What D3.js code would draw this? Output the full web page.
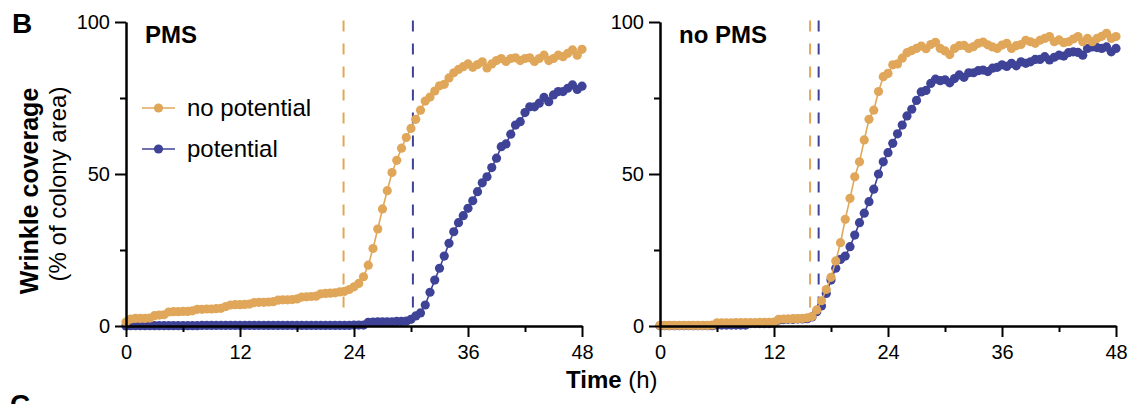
<!DOCTYPE html>
<html>
<head>
<meta charset="utf-8">
<script src="https://cdn.jsdelivr.net/npm/d3@7"></script>
<style>
body { margin: 0; background: #fff; }
svg { font-family: Arial, "Liberation Sans", Helvetica, sans-serif; }
</style>
</head>
<body>
<svg width="1132" height="404"></svg>
<script>
// sampling every 30 min, 0..48 h
var hours = d3.range(0, 48.5, 0.5);

var seriesNames = ["no potential", "potential"],
	seriesColors = ["#E0A75A", "#3F4397"];

// PMS panel
var pmsNoPotential = [
	1.3, 2.3, 2.5, 2.5, 2.5, 2.6, 3.4, 3.6, 3.7, 4.6,
	4.7, 4.7, 4.8, 4.8, 5.0, 5.5, 5.5, 5.6, 5.6, 5.7,
	5.8, 6.4, 6.9, 7.0, 7.0, 7.1, 7.2, 7.7, 7.8, 7.8,
	7.9, 8.0, 8.5, 8.6, 8.6, 8.7, 8.9, 9.5, 9.6, 9.7,
	9.8, 10.6, 10.7, 10.8, 10.9, 11.2, 11.4, 12.0, 12.9, 14.0,
	16.2, 20.0, 25.5, 31.9, 38.5, 44.5, 50.5, 54.5, 58.5, 62.0,
	65.0, 68.0, 71.0, 74.0, 75.3, 77.3, 79.0, 79.5, 81.6, 83.3,
	84.4, 85.3, 86.2, 85.1, 86.0, 86.9, 84.9, 86.2, 87.3, 88.0,
	87.0, 88.0, 88.2, 87.3, 88.0, 88.2, 87.0, 88.0, 89.1, 87.3,
	88.0, 89.1, 88.6, 89.7, 90.8, 89.1, 91.0];
var pmsPotential = [
	0.0, 0.1, 0.1, 0.1, 0.1, 0.1, 0.1, 0.1, 0.1, 0.1,
	0.1, 0.1, 0.1, 0.1, 0.1, 0.1, 0.2, 0.2, 0.2, 0.2,
	0.2, 0.2, 0.2, 0.2, 0.2, 0.2, 0.2, 0.2, 0.2, 0.2,
	0.2, 0.2, 0.2, 0.2, 0.2, 0.2, 0.2, 0.2, 0.2, 0.2,
	0.2, 0.2, 0.2, 0.2, 0.2, 0.2, 0.2, 0.2, 0.3, 0.3,
	0.3, 1.2, 1.3, 1.4, 1.4, 1.4, 1.4, 1.5, 1.5, 1.6,
	2.2, 3.3, 4.3, 6.9, 11.1, 15.1, 19.0, 23.0, 27.2, 31.0,
	34.0, 36.3, 38.7, 41.2, 44.2, 47.1, 49.1, 52.1, 55.2, 59.0,
	59.9, 63.1, 66.1, 67.2, 70.2, 72.1, 72.1, 73.3, 75.2, 73.8,
	76.0, 77.1, 77.1, 78.2, 79.3, 77.8, 78.9];

// no PMS panel
var noPmsNoPotential = [
	0.2, 0.2, 0.2, 0.2, 0.2, 0.2, 0.2, 0.2, 0.2, 0.2, 0.2, 0.3,
	1.0, 1.0, 1.0, 1.0, 1.1, 1.1, 1.1, 1.1, 1.1, 1.2, 1.2, 1.2, 1.3,
	2.2, 2.3, 2.3, 2.4, 2.4, 2.5, 2.7,
	3.1, 5.3, 8.3, 12.0, 16.0, 21.4, 27.4, 35.1, 42.0, 49.1,
	54.0, 61.2, 68.0, 71.0, 77.1, 82.0, 83.1, 85.9, 86.2, 88.1,
	89.9, 90.6, 91.3, 92.1, 91.2, 92.6, 93.3, 91.3, 90.5, 89.3,
	91.3, 92.2, 92.3, 91.3, 91.9, 93.0, 93.4, 92.5, 91.8, 91.3,
	92.4, 93.0, 91.3, 92.2, 92.6, 94.0, 93.5, 93.0, 94.0, 94.6,
	95.2, 93.5, 94.1, 93.2, 93.5, 94.4, 95.2, 93.5, 94.6, 93.5,
	94.6, 95.3, 96.3, 94.6, 95.2];
var noPmsPotential = [
	0.1, 0.1, 0.1, 0.1, 0.1, 0.1, 0.1, 0.1, 0.1, 0.1, 0.1, 0.1,
	0.3, 0.3, 0.3, 0.3, 0.3, 0.3, 0.3, 0.8, 0.8, 0.8, 0.8, 0.8, 0.9,
	2.0, 2.1, 2.2, 2.2, 2.3, 2.3, 2.4,
	3.0, 4.7, 6.6, 10.7, 15.1, 19.0, 21.9, 23.0, 26.1, 29.9,
	34.0, 37.1, 40.9, 45.0, 50.0, 54.0, 57.0, 60.1, 63.2, 66.1,
	69.1, 71.3, 74.2, 77.0, 77.5, 79.8, 81.2, 80.7, 81.0, 80.0,
	81.4, 82.6, 81.8, 83.3, 83.3, 84.0, 84.2, 83.7, 84.8, 85.1,
	85.9, 85.4, 86.4, 85.6, 86.9, 86.4, 86.9, 87.7, 87.7, 88.6,
	87.5, 88.4, 89.1, 88.8, 89.9, 90.2, 90.0, 89.1, 91.3, 91.8,
	91.6, 91.3, 91.8, 90.2, 91.3];

// onset of wrinkling (h), dashed markers
var onsetPms = [22.9, 30.2],
	onsetNoPms = [15.8, 16.7];

var xMajor = [0, 12, 24, 36, 48], xMinor = [6, 18, 30, 42],
	yMajor = [0, 50, 100], yMinor = [25, 75];

var panels = [
	{ title: "PMS", left: 126, series: [pmsNoPotential, pmsPotential], onset: onsetPms, legend: true },
	{ title: "no PMS", left: 660, series: [noPmsNoPotential, noPmsPotential], onset: onsetNoPms, legend: false }
];

var svg = d3.select("svg"),
	plotW = 456, plotTop = 22, plotBottom = 326,
	dotR = 4.6;

var y = d3.scaleLinear().domain([0, 100]).range([plotBottom, plotTop]);

panels.forEach(function(p) {
	var x = d3.scaleLinear().domain([0, 48]).range([p.left, p.left + plotW]);
	var g = svg.append("g");

	// dashed onset lines
	p.onset.forEach(function(t, i) {
		g.append("line")
			.attr("x1", x(t)).attr("x2", x(t))
			.attr("y1", y(100.5)).attr("y2", y(4.5))
			.attr("stroke", seriesColors[i])
			.attr("stroke-width", 2)
			.attr("stroke-dasharray", "11,12");
	});

	var line = d3.line()
		.x(function(d, i) { return x(hours[i]); })
		.y(function(d) { return y(d); });

	// potential first so that no potential sits on top
	[1, 0].forEach(function(s) {
		var vals = p.series[s];
		g.append("path")
			.datum(vals)
			.attr("fill", "none")
			.attr("stroke", seriesColors[s])
			.attr("stroke-width", 1.6)
			.attr("d", line);
		g.selectAll(null)
			.data(vals)
			.enter().append("circle")
			.attr("cx", function(d, i) { return x(hours[i]); })
			.attr("cy", function(d) { return y(d); })
			.attr("r", dotR)
			.attr("fill", seriesColors[s]);
	});

	// axes
	g.append("g").attr("transform", "translate(0," + plotBottom + ")")
		.call(d3.axisBottom(x).tickValues(xMajor).tickSize(11).tickSizeOuter(0).tickPadding(8));
	g.append("g").attr("transform", "translate(0," + plotBottom + ")")
		.call(d3.axisBottom(x).tickValues(xMinor).tickSize(6).tickSizeOuter(0).tickFormat(""));
	g.append("g").attr("transform", "translate(" + p.left + ",0)")
		.call(d3.axisLeft(y).tickValues(yMajor).tickSize(11).tickSizeOuter(0).tickPadding(5));
	g.append("g").attr("transform", "translate(" + p.left + ",0)")
		.call(d3.axisLeft(y).tickValues(yMinor).tickSize(6).tickSizeOuter(0).tickFormat(""));

	g.selectAll(".domain, .tick line").attr("stroke", "#000").attr("stroke-width", 2);
	g.selectAll(".tick text").attr("fill", "#000").style("font-size", "20px");

	g.append("text")
		.attr("x", p.left + 19).attr("y", 43)
		.attr("font-size", 24).attr("font-weight", "bold")
		.text(p.title);

	if (p.legend) {
		var lg = g.selectAll(".leg")
			.data(seriesNames)
			.enter().append("g")
			.attr("transform", function(d, i) { return "translate(" + (p.left + 16) + "," + (108 + i * 41) + ")"; });
		lg.append("line").attr("x1", 0).attr("x2", 33)
			.attr("stroke", function(d, i) { return seriesColors[i]; })
			.attr("stroke-width", 1.6);
		lg.append("circle").attr("cx", 16.5).attr("r", dotR)
			.attr("fill", function(d, i) { return seriesColors[i]; });
		lg.append("text").attr("x", 45).attr("y", 8)
			.attr("font-size", 24)
			.text(function(d) { return d; });
	}
});

// axis titles and panel letters
svg.append("text")
	.attr("transform", "translate(38,191) rotate(-90)")
	.attr("text-anchor", "middle").attr("font-size", 25).attr("font-weight", "bold")
	.text("Wrinkle coverage");
svg.append("text")
	.attr("transform", "translate(66,184) rotate(-90)")
	.attr("text-anchor", "middle").attr("font-size", 24)
	.text("(% of colony area)");

var tt = svg.append("text").attr("x", 566).attr("y", 388).attr("font-size", 24);
tt.append("tspan").attr("font-weight", "bold").text("Time");
tt.append("tspan").text(" (h)");

svg.append("text").attr("x", 12).attr("y", 33)
	.attr("font-size", 28).attr("font-weight", "bold").text("B");
svg.append("text").attr("x", 10).attr("y", 414)
	.attr("font-size", 28).attr("font-weight", "bold").text("C");
</script>
</body>
</html>
